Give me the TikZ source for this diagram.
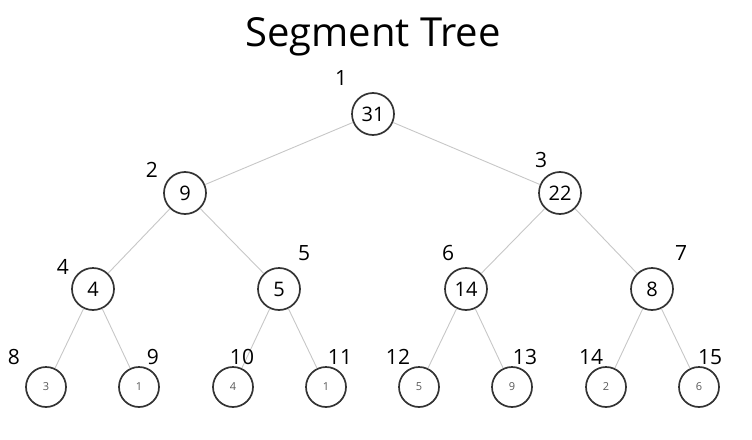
\documentclass[tikz,border=0pt]{standalone}
\usepackage{fontspec}
\setmainfont{Open Sans}
\begin{document}
\begin{tikzpicture}[x=1pt,y=-1pt,
  nd/.style={circle,draw=black!80,line width=1.7pt,minimum size=42pt,inner sep=0pt,font=\fontsize{20}{20}\selectfont},
  leaf/.style={circle,draw=black!80,line width=1.7pt,minimum size=40pt,inner sep=0pt,font=\fontsize{11}{11}\selectfont,text=black!65},
  idx/.style={font=\fontsize{21}{21}\selectfont,inner sep=0pt},
  edge/.style={draw=black!22,line width=0.9pt}]
\useasboundingbox (0,0) rectangle (752,439);
\node[font=\fontsize{40}{40}\selectfont,inner sep=0pt] (title) at (373,37) {Segment Tree};
\node[nd] (n1) at (373,114) {31};
\node[nd] (n2) at (185,193) {9};
\node[nd] (n3) at (560,193) {22};
\node[nd] (n4) at (93,289) {4};
\node[nd] (n5) at (279,289) {5};
\node[nd] (n6) at (466,289) {14};
\node[nd] (n7) at (652,289) {8};
\node[leaf] (n8) at (46,387) {3};
\node[leaf] (n9) at (139,387) {1};
\node[leaf] (n10) at (233,387) {4};
\node[leaf] (n11) at (326,387) {1};
\node[leaf] (n12) at (419,387) {5};
\node[leaf] (n13) at (512,387) {9};
\node[leaf] (n14) at (606,387) {2};
\node[leaf] (n15) at (699,387) {6};
\foreach \p/\c in {n1/n2,n1/n3,n2/n4,n2/n5,n3/n6,n3/n7,n4/n8,n4/n9,n5/n10,n5/n11,n6/n12,n6/n13,n7/n14,n7/n15}
  \draw[edge] (\p) -- (\c);
\node[idx] (l1) at (341,78) {1};
\node[idx] (l2) at (152,170) {2};
\node[idx] (l3) at (541,160) {3};
\node[idx] (l4) at (63,267) {4};
\node[idx] (l5) at (304,253) {5};
\node[idx] (l6) at (448,253) {6};
\node[idx] (l7) at (681,253) {7};
\node[idx] (l8) at (14,357) {8};
\node[idx] (l9) at (153,357) {9};
\node[idx] (l10) at (242,357) {10};
\node[idx] (l11) at (340,357) {11};
\node[idx] (l12) at (398,357) {12};
\node[idx] (l13) at (525,357) {13};
\node[idx] (l14) at (591,357) {14};
\node[idx] (l15) at (710,357) {15};
\end{tikzpicture}
\end{document}
